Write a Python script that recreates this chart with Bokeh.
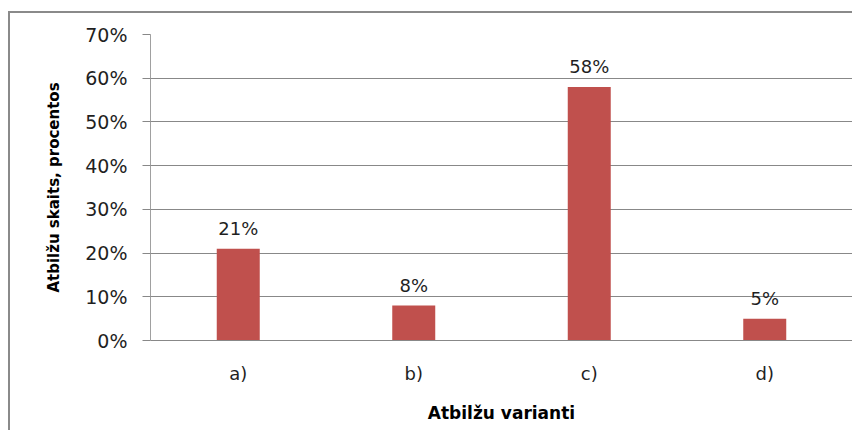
from bokeh.plotting import figure
from bokeh.models import ColumnDataSource, NumeralTickFormatter, FixedTicker, FactorRange, Range1d
from bokeh.embed import file_html
from bokeh.resources import INLINE

categories = ["a)", "b)", "c)", "d)"]
values = [0.21, 0.08, 0.58, 0.05]
labels = ["21%", "8%", "58%", "5%"]
y_ticks = [0, 0.1, 0.2, 0.3, 0.4, 0.5, 0.6, 0.7]
x_title = "Atbilžu varianti"
y_title = "Atbilžu skaits, procentos"

FONT = "DejaVu Sans"
TXT = "#1f1f1f"

src = ColumnDataSource(dict(cat=categories, val=values, lab=labels))

p = figure(
    x_range=FactorRange(*categories, range_padding=0),
    y_range=Range1d(0, 0.7),
    width=844, height=419,
    output_backend="svg", toolbar_location=None,
    min_border_left=140, min_border_right=2, min_border_top=21, min_border_bottom=92,
    styles={"border-left": "2px solid #8a8a8a", "border-top": "2px solid #8a8a8a",
            "margin-top": "11px", "margin-left": "8px"},
)
p.outline_line_color = None
p.background_fill_color = "white"
p.border_fill_color = "white"

p.vbar(x="cat", top="val", width=0.245, source=src, fill_color="#C0504D", line_color=None)
p.text(x="cat", y="val", text="lab", source=src, text_align="center", text_baseline="alphabetic",
       y_offset=-20, text_font_size="18px", text_color=TXT, text_font={"value": FONT})

# y axis
yax = p.yaxis[0]
yax.ticker = FixedTicker(ticks=y_ticks)
yax.formatter = NumeralTickFormatter(format="0%")
yax.major_tick_out = 8
yax.major_tick_in = 0
yax.minor_tick_out = 0
yax.minor_tick_in = 0
yax.major_tick_line_color = "#888888"
yax.axis_line_color = "#a0a0a0"
yax.major_label_standoff = 15
yax.major_label_text_font = FONT
yax.major_label_text_font_size = "19px"
yax.major_label_text_color = TXT
yax.axis_label = y_title
yax.axis_label_text_font = FONT
yax.axis_label_text_font_style = "bold"
yax.axis_label_text_font_size = "15px"
yax.axis_label_text_color = "black"
yax.axis_label_standoff = 19

# x axis
xax = p.xaxis[0]
xax.major_tick_out = 0
xax.major_tick_in = 0
xax.axis_line_color = "#888888"
xax.major_label_standoff = 22
xax.major_label_text_font = FONT
xax.major_label_text_font_size = "18px"
xax.major_label_text_color = TXT
xax.axis_label = x_title
xax.axis_label_text_font = FONT
xax.axis_label_text_font_style = "bold"
xax.axis_label_text_font_size = "17px"
xax.axis_label_text_color = "black"
xax.axis_label_standoff = 16

p.xgrid.grid_line_color = None
p.ygrid.grid_line_color = "#888888"
p.ygrid.ticker = FixedTicker(ticks=y_ticks)

open("out.html", "w").write(file_html(p, INLINE))
